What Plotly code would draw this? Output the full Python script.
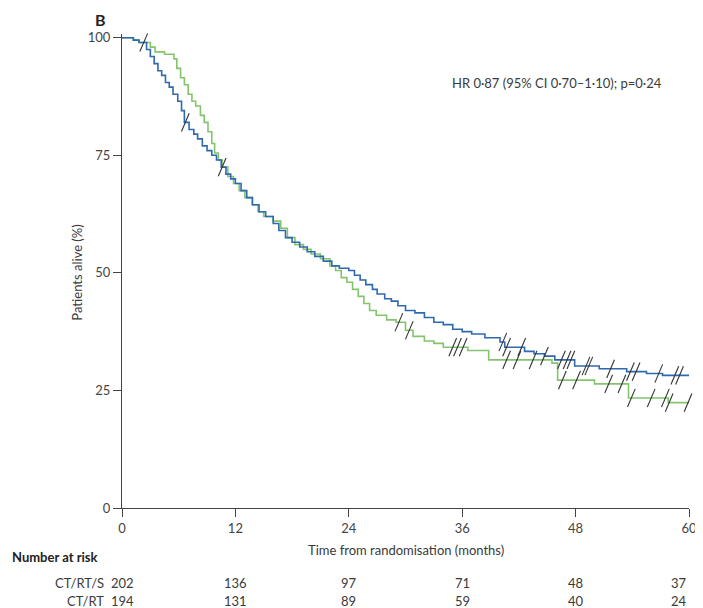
import plotly.graph_objects as go

# ---------------- data ----------------
# CT/RT/S (blue) Kaplan-Meier steps
t_s = [0, 1.2, 1.8, 2.6, 3.0, 3.4, 3.8, 4.2, 4.6, 5.0, 5.4, 5.9, 6.3, 6.6, 7.1, 7.6, 8.0,
       8.5, 9.0, 9.5, 10.0, 10.5, 11.0, 11.5, 12.0, 12.6, 13.2, 13.8, 14.5, 15.2, 16.0,
       16.6, 17.3, 18.0, 18.8, 19.6, 20.4, 21.3, 22.2, 23.0, 24.0, 24.6, 25.2, 25.8,
       26.5, 27.0, 27.8, 28.5, 29.2, 30.0, 31.0, 32.0, 33.0, 34.0, 35.0, 36.0, 37.0,
       38.4, 40.0, 40.5, 42.6, 43.6, 44.7, 45.8, 47.9, 50.5, 53.4, 55.5, 57.2, 60]
s_s = [100, 99.5, 99, 97.5, 96, 94.5, 93, 92, 90.5, 89.5, 88, 86.5, 84.5, 82, 80.5, 79.5, 78.5,
       77, 76, 75, 74, 72.5, 71, 70, 69, 67.5, 66, 64.5, 63, 62, 60.5,
       59, 57.5, 56.5, 55.5, 54.5, 53.5, 52.5, 51.5, 51, 50.5, 49.5, 48.5, 47.5,
       46.5, 45.5, 44.5, 44, 43, 42, 41.5, 40.5, 39.5, 39, 38, 37.5, 37,
       36.2, 35.3, 34.2, 33.3, 32.8, 32.3, 31.5, 30.2, 29.6, 29.0, 28.6, 28.2, 28.2]
cens_s = [2.3, 6.7, 10.6, 40.3, 40.7, 42.3, 44.7, 46.5, 47.1, 47.5, 49.1, 49.4, 51.7,
          53.8, 54.4, 56.8, 58.5, 59.0]

# CT/RT (green) Kaplan-Meier steps
t_r = [0, 1.2, 1.8, 3.0, 3.5, 4.5, 5.5, 5.8, 6.2, 6.6, 7.0, 7.4, 7.8, 8.3, 8.7, 9.1, 9.5,
       9.8, 10.2, 10.6, 11.2, 11.8, 12.4, 13.0, 13.8, 14.4, 15.0, 16.0, 16.8, 17.5, 18.3,
       19.2, 20.0, 21.0, 22.0, 22.6, 23.2, 23.8, 24.4, 25.0, 25.6, 26.2, 26.9, 28.0,
       29.0, 30.0, 30.8, 32.0, 33.0, 34.0, 36.6, 38.8, 45.5, 46.1, 50.0, 53.6, 57.8, 60]
s_r = [100, 99.5, 99, 98, 97, 96.5, 95.5, 93.5, 91.5, 90, 88, 86.5, 85.5, 83.5, 82, 80, 77.5,
       75.5, 74, 72.5, 70.5, 69, 67.5, 66, 64.5, 63, 62, 61, 59.5, 57.5, 56,
       55, 54, 53, 51.5, 50.5, 49, 48, 46.5, 45, 43.5, 42, 41, 40,
       39.5, 37.8, 36.5, 35.5, 35, 34.2, 33.5, 31.5, 30.8, 27.2, 26.4, 23.4, 22.4, 22.4]
cens_r = [29.3, 30.4, 35.0, 35.5, 36.1, 40.7, 41.8, 43.5, 46.6, 48.1, 51.5, 52.9, 53.9,
          56.0, 57.5, 57.9, 59.9]

x_ticks = [0, 12, 24, 36, 48, 60]
y_ticks = [0, 25, 50, 75, 100]
risk_s = [202, 136, 97, 71, 48, 37]
risk_r = [194, 131, 89, 59, 40, 24]
group_names = ["CT/RT/S", "CT/RT"]

BLUE = "#2f69b0"
GREEN = "#84c46c"
FONT = "Lato, 'Open Sans', sans-serif"


def step_at(ts, ss, t):
    v = ss[0]
    for ti, si in zip(ts, ss):
        if ti <= t:
            v = si
    return v


fig = go.Figure()
fig.add_trace(go.Scatter(x=t_r, y=s_r, mode="lines", line=dict(color=GREEN, width=1.6, shape="hv"),
                         showlegend=False, hoverinfo="skip"))
fig.add_trace(go.Scatter(x=t_s, y=s_s, mode="lines", line=dict(color=BLUE, width=1.6, shape="hv"),
                         showlegend=False, hoverinfo="skip"))
for cens, ts, ss in [(cens_s, t_s, s_s), (cens_r, t_r, s_r)]:
    fig.add_trace(go.Scatter(
        x=cens, y=[step_at(ts, ss, c) for c in cens], mode="markers",
        marker=dict(symbol="line-ne", size=14, angle=-22,
                    line=dict(color="#333333", width=1.1)),
        cliponaxis=False, showlegend=False, hoverinfo="skip"))

# page body has an 8px margin: work in reference pixels, shifted by OFF
OFF = 8
W, H = 703 - OFF, 608 - OFF
L, R, T, B = 122 - OFF, 6, 34 - OFF, 100
PH = H - T - B
PW = W - L - R


def py(p):
    return (H - B - (p - OFF)) / PH


def px(p):
    return ((p - OFF) - L) / PW


TXT = "#3a3a3a"
ann = []
ann.append(dict(text="<b>B</b>", x=px(100), y=py(8), xref="paper", yref="paper",
                showarrow=False, font=dict(size=16, color="#222"), xanchor="center", yanchor="top"))
ann.append(dict(text="HR 0·87 (95% CI 0·70–1·10); p=0·24", x=px(455), y=py(83), xref="paper", yref="paper",
                showarrow=False, font=dict(size=13, color=TXT), xanchor="left", yanchor="middle"))
ann.append(dict(text="Patients alive (%)", x=px(76), y=py(273), xref="paper", yref="paper", textangle=-90,
                showarrow=False, font=dict(size=13, color=TXT), xanchor="center", yanchor="middle"))
ann.append(dict(text="Time from randomisation (months)", x=0.5, y=py(550), xref="paper", yref="paper",
                showarrow=False, font=dict(size=13, color=TXT), xanchor="center", yanchor="middle"))
ann.append(dict(text="<b>Number at risk</b>", x=px(8), y=py(557), xref="paper", yref="paper",
                showarrow=False, font=dict(size=13, color="#222"), xanchor="left", yanchor="middle"))
for row, (name, vals) in enumerate(zip(group_names, [risk_s, risk_r])):
    yy = py(583 + row * 18)
    ann.append(dict(text=name, x=px(106), y=yy, xref="paper", yref="paper", showarrow=False,
                    font=dict(size=13, color=TXT), xanchor="right", yanchor="middle"))
    for xt, v in zip(x_ticks, vals):
        ann.append(dict(text=str(v), x=xt, y=yy, xref="x", yref="paper", showarrow=False,
                        font=dict(size=13, color=TXT),
                        xanchor="right" if xt == 60 else "center", yanchor="middle"))

fig.update_layout(
    width=W, height=H, margin=dict(l=L, r=R, t=T, b=B),
    paper_bgcolor="white", plot_bgcolor="white",
    font=dict(family=FONT, size=13, color="#444"),
    annotations=ann,
    xaxis=dict(range=[0, 60], tickvals=x_ticks, ticks="outside", ticklen=8, tickcolor="#444",
               showline=True, linecolor="#444", linewidth=1.2, showgrid=False, zeroline=False,
               ticklabeloverflow="allow", tickfont=dict(size=13, color="#444")),
    yaxis=dict(range=[0, 100.8], tickvals=y_ticks, ticks="outside", ticklen=8, tickcolor="#444",
               showline=True, linecolor="#444", linewidth=1.2, showgrid=False, zeroline=False,
               ticklabeloverflow="allow", tickfont=dict(size=13, color="#444")),
)

fig.write_html("out.html")
